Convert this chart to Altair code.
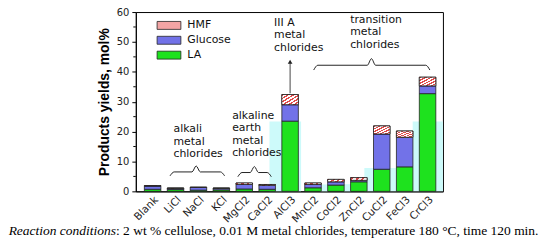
import altair as alt
import pandas as pd

# ---------------- data ----------------
categories = ["Blank", "LiCl", "NaCl", "KCl", "MgCl2", "CaCl2", "AlCl3",
              "MnCl2", "CoCl2", "ZnCl2", "CuCl2", "FeCl3", "CrCl3"]
la      = [0.7, 0.6, 0.4, 0.5, 0.8, 0.7, 23.5, 1.2, 2.1, 3.2, 7.4, 8.2, 32.7]
glucose = [1.1, 0.4, 0.9, 0.5, 1.5, 1.3, 5.5, 1.1, 1.1, 0.5, 11.8, 9.9, 2.6]
hmf     = [0.1, 0.1, 0.1, 0.1, 0.5, 0.3, 3.4, 0.5, 0.8, 0.9, 2.7, 2.1, 2.9]
series_names = ["LA", "Glucose", "HMF"]

# light cyan background patches seen in the picture (index units / mol%)
patch_x0  = [5.10, 7.30, 8.35, 9.24, 11.35]
patch_x1  = [6.48, 7.65, 8.65, 11.35, 12.67]
patch_top = [23.4, 2.3, 2.4, 7.8, 23.4]

# group annotations
ann_lines = [["alkali", "metal", "chlorides"],
             ["alkaline", "earth", "metal", "chlorides"],
             ["III A", "metal", "chlorides"],
             ["transition", "metal", "chlorides"]]
ann_x = [0.91, 3.47, 5.30, 8.62]
ann_y = [20.8, 25.2, 56.4, 57.3]

# braces: start, end, peak position, tip height, line height, peak height
brace_a    = [0.76, 3.72, 7.03]
brace_b    = [3.14, 5.18, 12.10]
brace_m    = [1.90, 4.44, 9.55]
brace_tip  = [5.2, 4.9, 40.6]
brace_line = [6.5, 6.3, 42.2]
brace_peak = [8.5, 8.3, 44.4]

arrow_from, arrow_to = 32.8, 43.4

y_ticks = [0, 10, 20, 30, 40, 50, 60]
y_minor = [5, 15, 25, 35, 45, 55]

caption_italic = "Reaction conditions"
caption_rest = ": 2 wt % cellulose, 0.01 M metal chlorides, temperature 180 \u00b0C, time 120 min."

# ---------------- tables ----------------
rows = []
for i, c in enumerate(categories):
    base = 0.0
    for s, vals in zip(series_names, [la, glucose, hmf]):
        rows.append({"cat": c, "idx": i, "x0": i - 0.36, "x1": i + 0.36,
                     "series": s, "y0": base, "y1": base + vals[i]})
        base += vals[i]
bars = pd.DataFrame(rows)

patches = pd.DataFrame({"x0": patch_x0, "x1": patch_x1, "y0": 0.0, "y1": patch_top})

line_step = 12.5 / (181 / 60)
ann_rows = []
for lines, x, y in zip(ann_lines, ann_x, ann_y):
    for k, t in enumerate(lines):
        ann_rows.append({"x0": x, "y0": y - k * line_step, "t": t})
ann = pd.DataFrame(ann_rows)

br_rows = []
for j in range(len(brace_a)):
    a, b, m = brace_a[j], brace_b[j], brace_m[j]
    tip, ln, pk = brace_tip[j], brace_line[j], brace_peak[j]
    d = 0.18
    pts = [(a, tip), (a + d, ln), (m - d, ln), (m, pk), (m + d, ln), (b - d, ln), (b, tip)]
    for k, (px, py) in enumerate(pts):
        br_rows.append({"brace": j, "o": k, "x0": px, "y0": py})
braces = pd.DataFrame(br_rows)

arrow = pd.DataFrame({"x0": [6.0], "y0": [arrow_from], "y1": [arrow_to]})
minor = pd.DataFrame({"y0": y_minor})
one = pd.DataFrame({"a": [0]})

# ---------------- scales / axes ----------------
xscale = alt.Scale(domain=[-0.734, 12.67], nice=False, zero=False)
yscale = alt.Scale(domain=[0, 60], nice=False)
label_expr = "[" + ",".join("'%s'" % c for c in categories) + "][datum.value]"

x_axis = alt.Axis(values=list(range(len(categories))), labelExpr=label_expr,
                  labelAngle=-45, ticks=False, grid=False, title=None,
                  labelOverlap=False, labelFlush=False,
                  labelFont="DejaVu Sans", labelFontSize=10.5, labelColor="#222",
                  labelPadding=3, domainColor="black")
y_axis = alt.Axis(values=y_ticks, grid=False, labelOverlap=False, labelFlush=False,
                  title="Products yields, mol%", titleFont="Liberation Sans",
                  titleFontSize=14, titleFontWeight="bold", titleColor="black",
                  titlePadding=5, labelFont="DejaVu Sans", labelFontSize=10,
                  labelColor="#222", labelPadding=3, tickSize=4,
                  tickColor="black", domainColor="black")


def X(f="x0"):
    return alt.X(f + ":Q", scale=xscale, axis=x_axis)


def Y(f="y0"):
    return alt.Y(f + ":Q", scale=yscale, axis=y_axis)


color_scale = alt.Scale(domain=["HMF", "Glucose", "LA"],
                        range=["#f2a4a4", "#7272e8", "#1ee21e"])

bg = alt.Chart(patches).mark_rect(color="#cdfafa").encode(
    x=X(), x2="x1:Q", y=Y(), y2="y1:Q")

bar_layer = alt.Chart(bars).mark_bar(stroke="#222", strokeWidth=0.8).encode(
    x=X(), x2="x1:Q", y=Y(), y2="y1:Q",
    color=alt.Color("series:N", scale=color_scale,
                    legend=alt.Legend(title=None, orient="none", legendX=28, legendY=8,
                                      symbolType="M-3,-1H3V1H-3Z", symbolSize=64,
                                      symbolStrokeColor="#222", symbolStrokeWidth=0.8,
                                      symbolOpacity=1, labelFont="DejaVu Sans",
                                      labelFontSize=11, labelColor="#111",
                                      labelOffset=13, rowPadding=2, padding=0)))

n = 6
stops = []
for k in range(n):
    stops += [alt.GradientStop(color="#e04a4a", offset=k / n),
              alt.GradientStop(color="#e04a4a", offset=(k + 0.45) / n),
              alt.GradientStop(color="#ffffff", offset=(k + 0.45) / n),
              alt.GradientStop(color="#ffffff", offset=(k + 1) / n)]
hatch = alt.LinearGradient(gradient="linear", stops=stops, x1=0, y1=0, x2=1, y2=1)

hmf_layer = alt.Chart(bars).transform_filter(alt.datum.series == "HMF").mark_bar(
    fill=hatch, stroke="#222", strokeWidth=0.8).encode(
    x=X(), x2="x1:Q", y=Y(), y2="y1:Q")

brace_layer = alt.Chart(braces).mark_line(color="#222", strokeWidth=1,
                                          interpolate="monotone").encode(
    x=X(), y=Y(), detail="brace:N", order="o:Q")

arrow_line = alt.Chart(arrow).mark_rule(color="#444", strokeWidth=1).encode(
    x=X(), y=Y(), y2="y1:Q")
arrow_head = alt.Chart(arrow).mark_point(shape="triangle-up", filled=True, size=22,
                                         color="#222", opacity=1).encode(
    x=X(), y=Y("y1"))

ann_layer = alt.Chart(ann).mark_text(align="left", baseline="middle",
                                     font="DejaVu Sans", fontSize=11, color="#111").encode(
    x=X(), y=Y(), text="t:N")

minor_ticks = alt.Chart(minor).mark_rule(color="black", strokeWidth=1).encode(
    x=alt.value(0), x2=alt.value(-2.5), y=Y())

cap1 = alt.Chart(one).mark_text(align="right", baseline="alphabetic",
                                font="Liberation Serif", fontSize=13.6, fontStyle="italic",
                                color="black").encode(
    x=alt.value(-20), y=alt.value(225.5), text=alt.value(caption_italic))
cap2 = alt.Chart(one).mark_text(align="left", baseline="alphabetic",
                                font="Liberation Serif", fontSize=13.6,
                                color="black").encode(
    x=alt.value(-20), y=alt.value(225.5), text=alt.value(caption_rest))

chart = alt.layer(bg, bar_layer, hmf_layer, brace_layer, arrow_line, arrow_head,
                  ann_layer, minor_ticks, cap1, cap2).properties(
    width=310, height=181,
    autosize=alt.AutoSizeParams(type="none"),
    padding={"left": 129, "top": 3, "right": 100, "bottom": 46},
).configure_view(stroke="black", strokeWidth=1)

chart.save("out.html", embed_options={"renderer": "svg", "actions": False})
